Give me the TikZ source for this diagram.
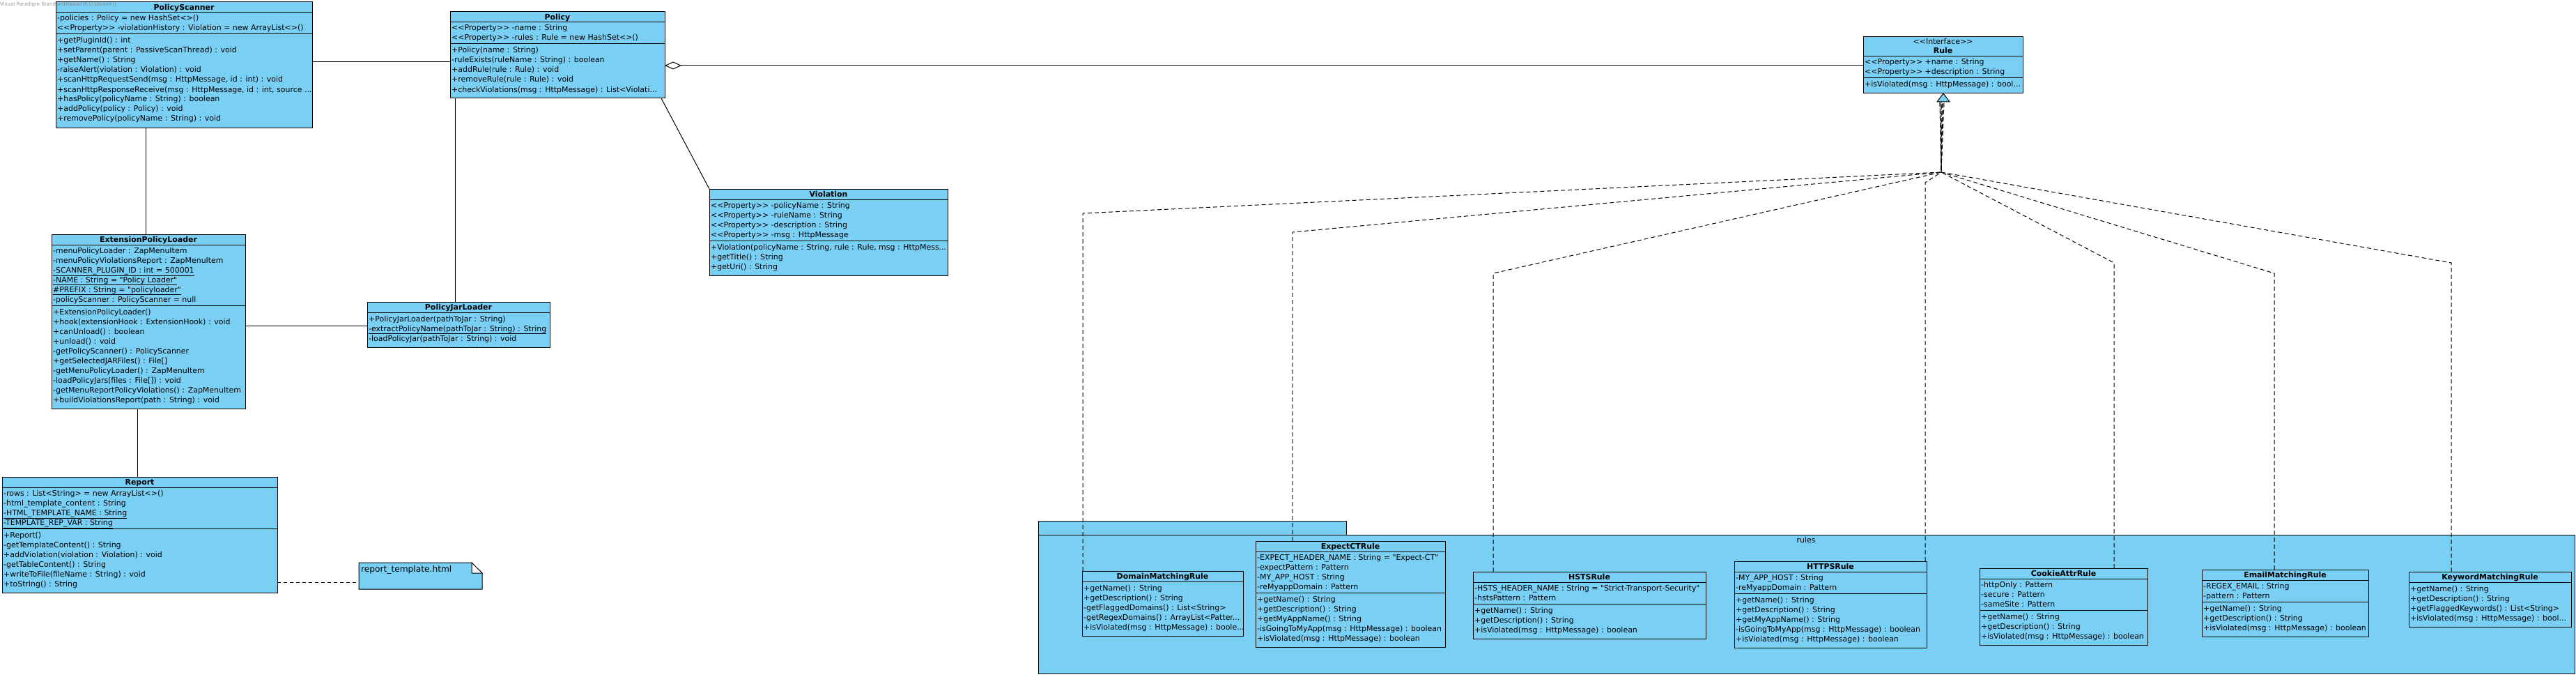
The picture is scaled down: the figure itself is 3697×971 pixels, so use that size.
\documentclass[tikz,border=0pt]{standalone}
\usepackage{fontspec}
\setmainfont{DejaVu Sans}[Ligatures=TeXOff]
\usetikzlibrary{arrows.meta}
\definecolor{vpblue}{HTML}{7ACFF5}
\newcommand\trunc{.\kern0pt.\kern0pt.}
\tikzset{
  classbox/.style={draw=black, fill=vpblue, line width=1pt, inner sep=0pt, outer sep=0pt, anchor=north west},
  rowtext/.style={inner sep=0pt, anchor=base west, font=\fontsize{10.95}{14}\selectfont},
  titletext/.style={inner sep=0pt, anchor=base, font=\bfseries\fontsize{10.95}{14}\selectfont},
  sepline/.style={line width=1pt},
  assoc/.style={line width=1pt},
  realize/.style={line width=1pt, dash pattern=on 6pt off 4pt},
  notedash/.style={line width=1pt, dash pattern=on 5pt off 4pt},
}
% name, x, top, width, title, n-attrs, attrs, n-ops, ops
\newcommand\umlclass[9]{%
  \pgfmathsetmacro\sepA{#3+15}%
  \pgfmathsetmacro\sepB{ifthenelse(#6>0, \sepA+14*#6+3, \sepA)}%
  \pgfmathsetmacro\botY{\sepB+14*#8+8}%
  \pgfmathsetmacro\hgt{\botY-#3}%
  \node[classbox, minimum width=#4pt, minimum height=\hgt pt] (#1) at (#2,#3) {};
  \draw[sepline] (#2,\sepA) -- ++(#4,0);
  \ifnum#6>0 \draw[sepline] (#2,\sepB) -- ++(#4,0);\fi
  \node[titletext] at (#2+#4/2, \sepA-3.5) {#5};
  \ifnum#6>0 \foreach \myrow [count=\i from 0] in {#7} {\node[rowtext] at (#2+2, \sepA+12+14*\i) {\myrow};}\fi
  \foreach \myrow [count=\i from 0] in {#9} {\node[rowtext] at (#2+2, \sepB+13+14*\i) {\myrow};}
}
\begin{document}
\begin{tikzpicture}[x=1pt, y=-1pt]
\useasboundingbox (0,0) rectangle (3697,971);
\fill[white] (0,0) rectangle (3697,971);

% ---------- package rules ----------
\node[classbox, minimum width=442pt, minimum height=20pt] (pkgtab) at (1490,747) {};
\node[classbox, minimum width=2205pt, minimum height=199pt] (pkg) at (1490,767) {};
\node[rowtext, anchor=base] at (2592,778) {rules};

% ---------- left classes ----------
\umlclass{ps}{80}{3}{368}{PolicyScanner}{2}{{-policies : Policy = new HashSet<>()},{<<Property>> -violationHistory : Violation = new ArrayList<>()}}{9}{{+getPluginId() : int},{+setParent(parent : PassiveScanThread) : void},{+getName() : String},{-raiseAlert(violation : Violation) : void},{+scanHttpRequestSend(msg : HttpMessage, id : int) : void},{+scanHttpResponseReceive(msg : HttpMessage, id : int, source \trunc},{+hasPolicy(policyName : String) : boolean},{+addPolicy(policy : Policy) : void},{+removePolicy(policyName : String) : void}}

\umlclass{policy}{646}{17}{308}{Policy}{2}{{<<Property>> -name : String},{<<Property>> -rules : Rule = new HashSet<>()}}{5}{{+Policy(name : String)},{-ruleExists(ruleName : String) : boolean},{+addRule(rule : Rule) : void},{+removeRule(rule : Rule) : void},{+checkViolations(msg : HttpMessage) : List<Violati\trunc}}

\umlclass{violation}{1018}{271}{342}{Violation}{4}{{<<Property>> -policyName : String},{<<Property>> -ruleName : String},{<<Property>> -description : String},{<<Property>> -msg : HttpMessage}}{3}{{+Violation(policyName : String, rule : Rule, msg : HttpMess\trunc},{+getTitle() : String},{+getUri() : String}}

\umlclass{epl}{74}{336}{278}{ExtensionPolicyLoader}{6}{{-menuPolicyLoader : ZapMenuItem},{-menuPolicyViolationsReport : ZapMenuItem},{\underline{-SCANNER\_PLUGIN\_ID : int = 500001}},{\underline{-NAME : String = "Policy Loader"}},{\underline{\#PREFIX : String = "policyloader"}},{-policyScanner : PolicyScanner = null}}{10}{{+ExtensionPolicyLoader()},{+hook(extensionHook : ExtensionHook) : void},{+canUnload() : boolean},{+unload() : void},{-getPolicyScanner() : PolicyScanner},{+getSelectedJARFiles() : File[]},{-getMenuPolicyLoader() : ZapMenuItem},{-loadPolicyJars(files : File[]) : void},{-getMenuReportPolicyViolations() : ZapMenuItem},{+buildViolationsReport(path : String) : void}}

\umlclass{pjl}{527}{433}{262}{PolicyJarLoader}{0}{}{3}{{+PolicyJarLoader(pathToJar : String)},{\underline{-extractPolicyName(pathToJar : String) : String}},{-loadPolicyJar(pathToJar : String) : void}}

\umlclass{report}{3}{684}{395}{Report}{4}{{-rows : List<String> = new ArrayList<>()},{-html\_template\_content : String},{\underline{-HTML\_TEMPLATE\_NAME : String}},{\underline{-TEMPLATE\_REP\_VAR : String}}}{6}{{+Report()},{-getTemplateContent() : String},{+addViolation(violation : Violation) : void},{-getTableContent() : String},{+writeToFile(fileName : String) : void},{+toString() : String}}

% note
\node[inner sep=0pt, outer sep=0pt, anchor=north west, minimum width=177pt, minimum height=38pt] (note) at (515,807) {};
\draw[line width=1pt, fill=vpblue] (note.north west) -- ([xshift=-15pt]note.north east) -- ([yshift=-15pt]note.north east) -- (note.south east) -- (note.south west) -- cycle;
\draw[line width=1pt, fill=white] ([xshift=-15pt]note.north east) -- ([xshift=-15pt,yshift=-15pt]note.north east) -- ([yshift=-15pt]note.north east) -- cycle;
\node[inner sep=0pt, anchor=base west, font=\fontsize{12.2}{14}\selectfont] at (518,820) {report\_template.html};

% ---------- interface Rule ----------
\node[classbox, minimum width=229pt, minimum height=81pt] (rule) at (2674,53) {};
\draw[sepline] (2674,81) -- ++(229,0);
\draw[sepline] (2674,112) -- ++(229,0);
\node[rowtext, anchor=base] at (2788.5,64) {<<Interface>>};
\node[titletext] at (2788.5,77) {Rule};
\node[rowtext] at (2676,93) {<<Property>> +name : String};
\node[rowtext] at (2676,107) {<<Property>> +description : String};
\node[rowtext] at (2676,125) {+isViolated(msg : HttpMessage) : bool\trunc};

% ---------- rules classes ----------
\umlclass{domain}{1553}{819}{231}{DomainMatchingRule}{0}{}{5}{{+getName() : String},{+getDescription() : String},{-getFlaggedDomains() : List<String>},{-getRegexDomains() : ArrayList<Patter\trunc},{+isViolated(msg : HttpMessage) : boole\trunc}}

\umlclass{expect}{1802}{776}{272}{ExpectCTRule}{4}{{-EXPECT\_HEADER\_NAME : String = "Expect-CT"},{-expectPattern : Pattern},{-MY\_APP\_HOST : String},{-reMyappDomain : Pattern}}{5}{{+getName() : String},{+getDescription() : String},{+getMyAppName() : String},{-isGoingToMyApp(msg : HttpMessage) : boolean},{+isViolated(msg : HttpMessage) : boolean}}

\umlclass{hsts}{2114}{820}{334}{HSTSRule}{2}{{-HSTS\_HEADER\_NAME : String = "Strict-Transport-Security"},{-hstsPattern : Pattern}}{3}{{+getName() : String},{+getDescription() : String},{+isViolated(msg : HttpMessage) : boolean}}

\umlclass{https}{2489}{805}{276}{HTTPSRule}{2}{{-MY\_APP\_HOST : String},{-reMyappDomain : Pattern}}{5}{{+getName() : String},{+getDescription() : String},{+getMyAppName() : String},{-isGoingToMyApp(msg : HttpMessage) : boolean},{+isViolated(msg : HttpMessage) : boolean}}

\umlclass{cookie}{2841}{815}{241}{CookieAttrRule}{3}{{-httpOnly : Pattern},{-secure : Pattern},{-sameSite : Pattern}}{3}{{+getName() : String},{+getDescription() : String},{+isViolated(msg : HttpMessage) : boolean}}

\umlclass{email}{3160}{817}{239}{EmailMatchingRule}{2}{{-REGEX\_EMAIL : String},{-pattern : Pattern}}{3}{{+getName() : String},{+getDescription() : String},{+isViolated(msg : HttpMessage) : boolean}}

\umlclass{keyword}{3457}{820}{233}{KeywordMatchingRule}{0}{}{4}{{+getName() : String},{+getDescription() : String},{+getFlaggedKeywords() : List<String>},{+isViolated(msg : HttpMessage) : bool\trunc}}

% ---------- connectors ----------
\draw[assoc] (ps.east |- 0,89) -- (policy.west |- 0,89);
\draw[assoc, {Diamond[open,length=24pt,width=11pt]}-] (policy.east |- 0,94) -- (rule.west |- 0,94);
\draw[assoc] (949,0 |- policy.south) -- (violation.north west);
\draw[assoc] (653,0 |- policy.south) -- (653,0 |- pjl.north);
\draw[assoc] (209,0 |- ps.south) -- (209,0 |- epl.north);
\draw[assoc] (epl.east |- 0,467) -- (pjl.west |- 0,467);
\draw[assoc] (197,0 |- epl.south) -- (197,0 |- report.north);
\draw[notedash] (report.east |- 0,835) -- (note.west |- 0,835);

% realization
\coordinate (tip) at (rule.south -| 2789,0);
\coordinate (hub) at (2786,247);
\draw[realize] (domain.north -| 1554,0) -- (1554,306) -- (hub) -- (2784,146);
\draw[realize] (expect.north -| 1855,0) -- (1855,333) -- (hub) -- (2786,146);
\draw[realize] (hsts.north -| 2143,0) -- (2143,392) -- (hub) -- (2788,146);
\draw[realize] (https.north -| 2763,0) -- (2763,262) -- (hub) -- (2786,146);
\draw[realize] (cookie.north -| 3034,0) -- (3034,377) -- (hub) -- (2788,146);
\draw[realize] (email.north -| 3264,0) -- (3264,392) -- (hub) -- (2784,146);
\draw[realize] (keyword.north -| 3518,0) -- (3518,377) -- (hub) -- (2790,146);
\draw[line width=1pt, fill=vpblue] (tip) -- ++(-9,12) -- ++(18,0) -- cycle;

% watermark
\node[inner sep=0pt, anchor=base west, font=\fontsize{7.1}{8}\selectfont, text=black!50, opacity=0.85] at (0,9) {Visual Paradigm Standard(Rawad(K.U.Leuven))};
\end{tikzpicture}
\end{document}
